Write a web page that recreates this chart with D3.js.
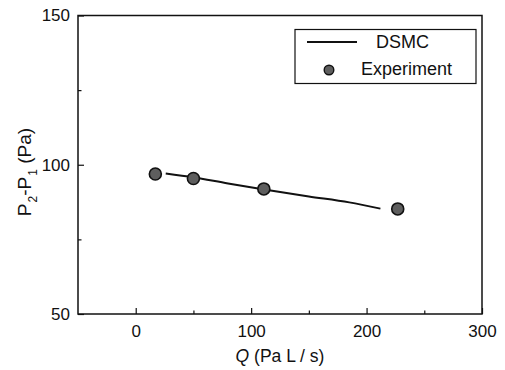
<!DOCTYPE html>
<html><head><meta charset="utf-8">
<script src="https://cdn.jsdelivr.net/npm/d3@7"></script>
<style>
html,body{margin:0;padding:0;background:#fff;}
svg text{font-family:"Liberation Sans",Arial,Helvetica,sans-serif;fill:#111;}
</style></head>
<body>
<svg id="c" width="505" height="370"></svg>
<script>
// DSMC simulation curve
const dsmcQ = [26, 50, 80, 110, 150, 185, 212];
const dsmcDP = [97.1, 95.8, 93.7, 91.8, 89.4, 87.4, 85.3];
// Experiment points
const expQ = [17, 50, 111, 227];
const expDP = [96.9, 95.4, 91.9, 85.2];
// Axis ticks
const xTicks = [0, 100, 200, 300];
const xMinor = [50, 150, 250];
const yTicks = [50, 100, 150];
const yMinor = [75, 125];
const seriesNames = ["DSMC", "Experiment"];

const svg = d3.select("#c");
const L = 78, R = 482, T = 15.5, B = 314;
const x = d3.scaleLinear().domain([-50, 300]).range([L, R]);
const y = d3.scaleLinear().domain([50, 150]).range([B, T]);

// x axis (ticks inward)
const gx = svg.append("g").attr("transform", `translate(0,${B})`);
gx.call(d3.axisBottom(x).tickValues(xMinor).tickSize(-3.5).tickFormat(""));
gx.call(g => g.select(".domain").remove());
const gx2 = svg.append("g").attr("transform", `translate(0,${B})`)
  .call(d3.axisBottom(x).tickValues(xTicks).tickSize(-6).tickPadding(11).tickFormat(d3.format("d")));
gx2.select(".domain").remove();
gx2.selectAll("text").attr("font-size", 17).attr("dy", "0.73em").attr("font-family", "Liberation Sans, Arial, sans-serif").attr("fill", "#111");

// y axis
const gy = svg.append("g").attr("transform", `translate(${L},0)`);
gy.call(d3.axisLeft(y).tickValues(yMinor).tickSize(-3.5).tickFormat(""));
gy.select(".domain").remove();
const gy2 = svg.append("g").attr("transform", `translate(${L},0)`)
  .call(d3.axisLeft(y).tickValues(yTicks).tickSize(-6).tickPadding(8).tickFormat(d3.format("d")));
gy2.select(".domain").remove();
gy2.selectAll("text").attr("font-size", 17).attr("font-family", "Liberation Sans, Arial, sans-serif").attr("fill", "#111");
svg.selectAll(".tick line").attr("stroke", "#111").attr("stroke-width", 1.2);

// frame
svg.append("rect").attr("x", L).attr("y", T).attr("width", R - L).attr("height", B - T)
  .attr("fill", "none").attr("stroke", "#111").attr("stroke-width", 1.5);

// DSMC line
const lineData = dsmcQ.map((q, i) => [q, dsmcDP[i]]);
svg.append("path").datum(lineData)
  .attr("d", d3.line().x(d => x(d[0])).y(d => y(d[1])).curve(d3.curveMonotoneX))
  .attr("fill", "none").attr("stroke", "#111").attr("stroke-width", 2);

// Experiment markers
const expData = expQ.map((q, i) => [q, expDP[i]]);
svg.append("g").selectAll("circle").data(expData).join("circle")
  .attr("cx", d => x(d[0])).attr("cy", d => y(d[1])).attr("r", 6)
  .attr("fill", "#5e5e5e").attr("stroke", "#111").attr("stroke-width", 1.6);

// axis labels
const xl = svg.append("text").attr("x", 280).attr("y", 362).attr("text-anchor", "middle")
  .attr("font-size", 17.5).attr("fill", "#111");
xl.append("tspan").attr("font-style", "italic").text("Q");
xl.append("tspan").text(" (Pa L / s)");

const yl = svg.append("text").attr("transform", "translate(31,172) rotate(-90)").attr("text-anchor", "middle")
  .attr("font-size", 19).attr("fill", "#111");
yl.append("tspan").text("P");
yl.append("tspan").attr("font-size", 12).attr("dy", 6).attr("dx", 1).text("2");
yl.append("tspan").attr("dy", -6).text("-P");
yl.append("tspan").attr("font-size", 12).attr("dy", 6).attr("dx", 1).text("1");
yl.append("tspan").attr("dy", -6).text(" (Pa)");

// legend
const lg = svg.append("g");
lg.append("rect").attr("x", 295).attr("y", 29.5).attr("width", 181).attr("height", 54)
  .attr("fill", "#fff").attr("stroke", "#111").attr("stroke-width", 1.2);
lg.append("line").attr("x1", 307).attr("x2", 357).attr("y1", 42).attr("y2", 42)
  .attr("stroke", "#111").attr("stroke-width", 2);
lg.append("text").attr("x", 376).attr("y", 42).attr("dy", "0.35em").attr("font-size", 18).attr("fill", "#111").text(seriesNames[0]);
lg.append("circle").attr("cx", 329).attr("cy", 70).attr("r", 4.8)
  .attr("fill", "#5e5e5e").attr("stroke", "#111").attr("stroke-width", 1.4);
lg.append("text").attr("x", 361).attr("y", 69).attr("dy", "0.35em").attr("font-size", 18).attr("fill", "#111").text(seriesNames[1]);
</script>
</body></html>
